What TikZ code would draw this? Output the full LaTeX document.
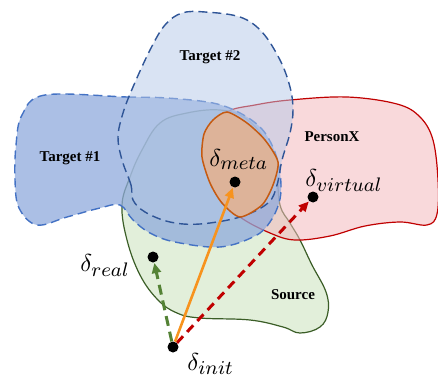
\documentclass[tikz,border=0pt]{standalone}
\usepackage{fontspec}
\setmainfont{Liberation Serif}
\usetikzlibrary{arrows.meta}
\definecolor{tonefill}{HTML}{B4C7E7}
\definecolor{tonedraw}{HTML}{2F5597}
\definecolor{tzonefill}{HTML}{8FAADC}
\definecolor{tzonedraw}{HTML}{4472C4}
\definecolor{srcfill}{HTML}{E2EFDA}
\definecolor{srcdraw}{HTML}{3B5E27}
\definecolor{pxfill}{HTML}{F4B9BE}
\definecolor{pxdraw}{HTML}{C00000}
\definecolor{metafill}{HTML}{DDB399}
\definecolor{metadraw}{HTML}{C55A11}
\definecolor{orangearrow}{HTML}{F7931E}
\definecolor{greenarrow}{HTML}{548235}
\newcommand{\dl}[1]{$\delta_{\mbox{\footnotesize$#1$}}$}
\tikzset{
  region/.style={line width=1.2pt},
  dashregion/.style={line width=1.4pt, dash pattern=on 9pt off 5pt},
  lab/.style={font=\bfseries\fontsize{15}{18}\selectfont, inner sep=0pt},
  mlab/.style={scale=2.45, inner sep=0pt, anchor=base west},
  dot/.style={circle, fill=black, inner sep=0pt, minimum size=11pt},
  arr/.style={-{Triangle[length=10pt,width=9pt]}, line width=2.6pt, shorten >=0.5pt},
}
\begin{document}
\begin{tikzpicture}[x=1pt,y=-1pt]
\useasboundingbox (0,0) rectangle (438,377);
% Source
\draw[region, draw=srcdraw, fill=srcfill] plot[smooth cycle, tension=0.65] coordinates {
 (160,123) (187,113) (220,110) (245,118) (265,140) (276,170) (280,205) (290,223) (300,240) (312,265)
 (326,292) (328,312) (320,327) (300,333) (283,327) (250,320) (200,318) (177,313) (158,300)
 (140,275) (127,240) (122,205) (130,177) (142,150)};
% PersonX
\draw[region, draw=pxdraw, fill=pxfill, fill opacity=0.55] plot[smooth cycle, tension=0.6] coordinates {
 (227,112) (255,105) (290,100) (347,97) (397,104) (420,117) (433,140) (438,180) (437,214)
 (427,225) (400,222) (365,226) (330,236) (295,240) (270,233) (240,217) (218,195) (208,165) (212,132)};
% Target #1
\draw[dashregion, draw=tzonedraw, fill=tzonefill, fill opacity=0.75] plot[smooth cycle, tension=0.6] coordinates {
 (45,95) (127,97) (167,98) (213,103) (240,113) (260,127) (271,143) (278,162) (281,185) (279,203)
 (270,222) (255,236) (220,247) (175,242) (150,233) (133,220) (120,205) (100,208) (67,217)
 (37,225) (19,208) (15,180) (16,145) (22,115)};
% Target #2
\draw[dashregion, draw=tonedraw, fill=tonefill, fill opacity=0.5] plot[smooth cycle, tension=0.6] coordinates {
 (133,200) (131,185) (122,160) (118,137) (123,113) (133,87) (150,50) (165,25) (182,13) (205,12)
 (240,17) (262,32) (280,60) (290,87) (293,110) (290,133) (282,160) (277,185) (268,203)
 (240,217) (200,224) (170,222) (145,212)};
% Meta
\draw[line width=1.5pt, draw=metadraw, fill=metafill] plot[smooth cycle, tension=0.45] coordinates {
 (227,112) (247,123) (265,140) (278,162) (273,185) (262,205) (240,217) (222,203) (210,183)
 (202,157) (204,134) (213,120)};
% labels
\node[lab] (t2) at (210,57) {Target \#2};
\node[lab] (t1) at (70,158) {Target \#1};
\node[lab] (px) at (332,137) {PersonX};
\node[lab] (src) at (293,295) {Source};
% points
\node[dot] (meta) at (235,182) {};
\node[dot] (virt) at (313,197) {};
\node[dot] (real) at (153,257) {};
\node[dot] (init) at (173,347) {};
\node[mlab] (lmeta) at (209,166) {\dl{meta}};
\node[mlab] (lvirt) at (305,186) {\dl{virtual}};
\node[mlab] (lreal) at (80,271) {\dl{real}};
\node[mlab] (linit) at (187,370) {\dl{init}};
% arrows
\draw[arr, draw=greenarrow, line width=3pt, dash pattern=on 10pt off 6pt] (init) -- (real);
\draw[arr, draw=pxdraw, line width=3pt, dash pattern=on 9pt off 6pt] (init) -- (virt);
\draw[arr, draw=orangearrow] (init) -- (meta);
\end{tikzpicture}
\end{document}
